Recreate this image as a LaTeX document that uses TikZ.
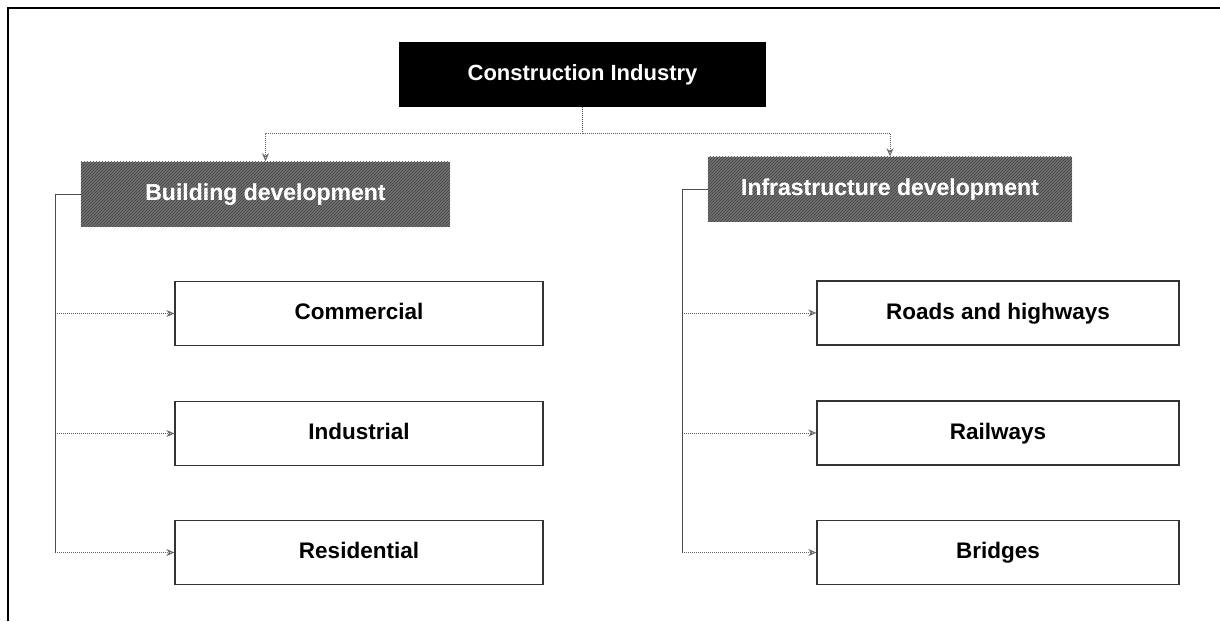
\documentclass[tikz,border=0pt]{standalone}
\usepackage{fontspec}
\setmainfont{Liberation Sans}
\usepackage{tikz}
\usetikzlibrary{arrows.meta,patterns}

\tikzset{
  headbox/.style={fill=black, text=white, inner sep=0pt,
    minimum width=367pt, minimum height=65pt, text height=16pt, text depth=4pt,
    font=\fontsize{22}{26}\selectfont\bfseries},
  groupbox/.style={fill=black!55, text=white, inner sep=0pt,
    minimum height=65pt, text height=17pt, text depth=4pt,
    font=\fontsize{23}{27}\selectfont\bfseries},
  itembox/.style={draw=black!80, line width=1.3pt, fill=white, inner sep=0pt,
    minimum height=64pt, text height=16pt, text depth=4pt,
    font=\fontsize{22.5}{26}\selectfont\bfseries},
  bus/.style={draw=black!70, line width=1pt},
  link/.style={draw=black!60, line width=1pt, densely dotted,
    -{Stealth[length=8pt,width=7pt,open]}},
}

\begin{document}
\begin{tikzpicture}[x=1pt,y=-1pt]
    \useasboundingbox (0,0) rectangle (1220,621);
    % Draw the frame lines
    \draw[line width=1.6pt] (8,621) -- (8,8) -- (1220,8);

    % Draw the top box and the two groups
    \node[headbox] (ind) at (582.5,74) {Construction Industry};
    \node[groupbox, minimum width=369pt] (bld) at (265.5,194) {Building development};
    \node[groupbox, minimum width=364pt] (inf) at (890,189) {Infrastructure development};
    \fill[pattern=north east lines, pattern color=black!75] (bld.north west) rectangle (bld.south east);
    \fill[pattern=north east lines, pattern color=black!75] (inf.north west) rectangle (inf.south east);
    \node[groupbox, fill=none] at (bld) {Building development};
    \node[groupbox, fill=none] at (inf) {Infrastructure development};

    % Split below the top box
    \coordinate (split) at (582.5,133);
    \draw[bus, densely dotted] (ind.south) -- (split);
    \draw[link] (split) -| (bld.north);
    \draw[link] (split) -| (inf.north);

    % Draw the items of each group
    \foreach \n/\y/\t in {com/313.5/Commercial, indu/433.5/Industrial, res/552.5/Residential}{
      \node[itembox, minimum width=368pt] (\n) at (359,\y) {\t};
      \draw[link] (55,\y) -- (\n.west);
    }
    \foreach \n/\y/\t in {road/313/Roads and highways, rail/433/Railways, brg/552.5/Bridges}{
      \node[itembox, minimum width=362pt] (\n) at (998,\y) {\t};
      \draw[link] (682,\y) -- (\n.west);
    }

    % Draw the buses on the left of the groups
    \draw[bus] (bld.west) -- (55,194) -- (55,552.5);
    \draw[bus] (inf.west) -- (682,189) -- (682,552.5);
  \end{tikzpicture}
\end{document}
